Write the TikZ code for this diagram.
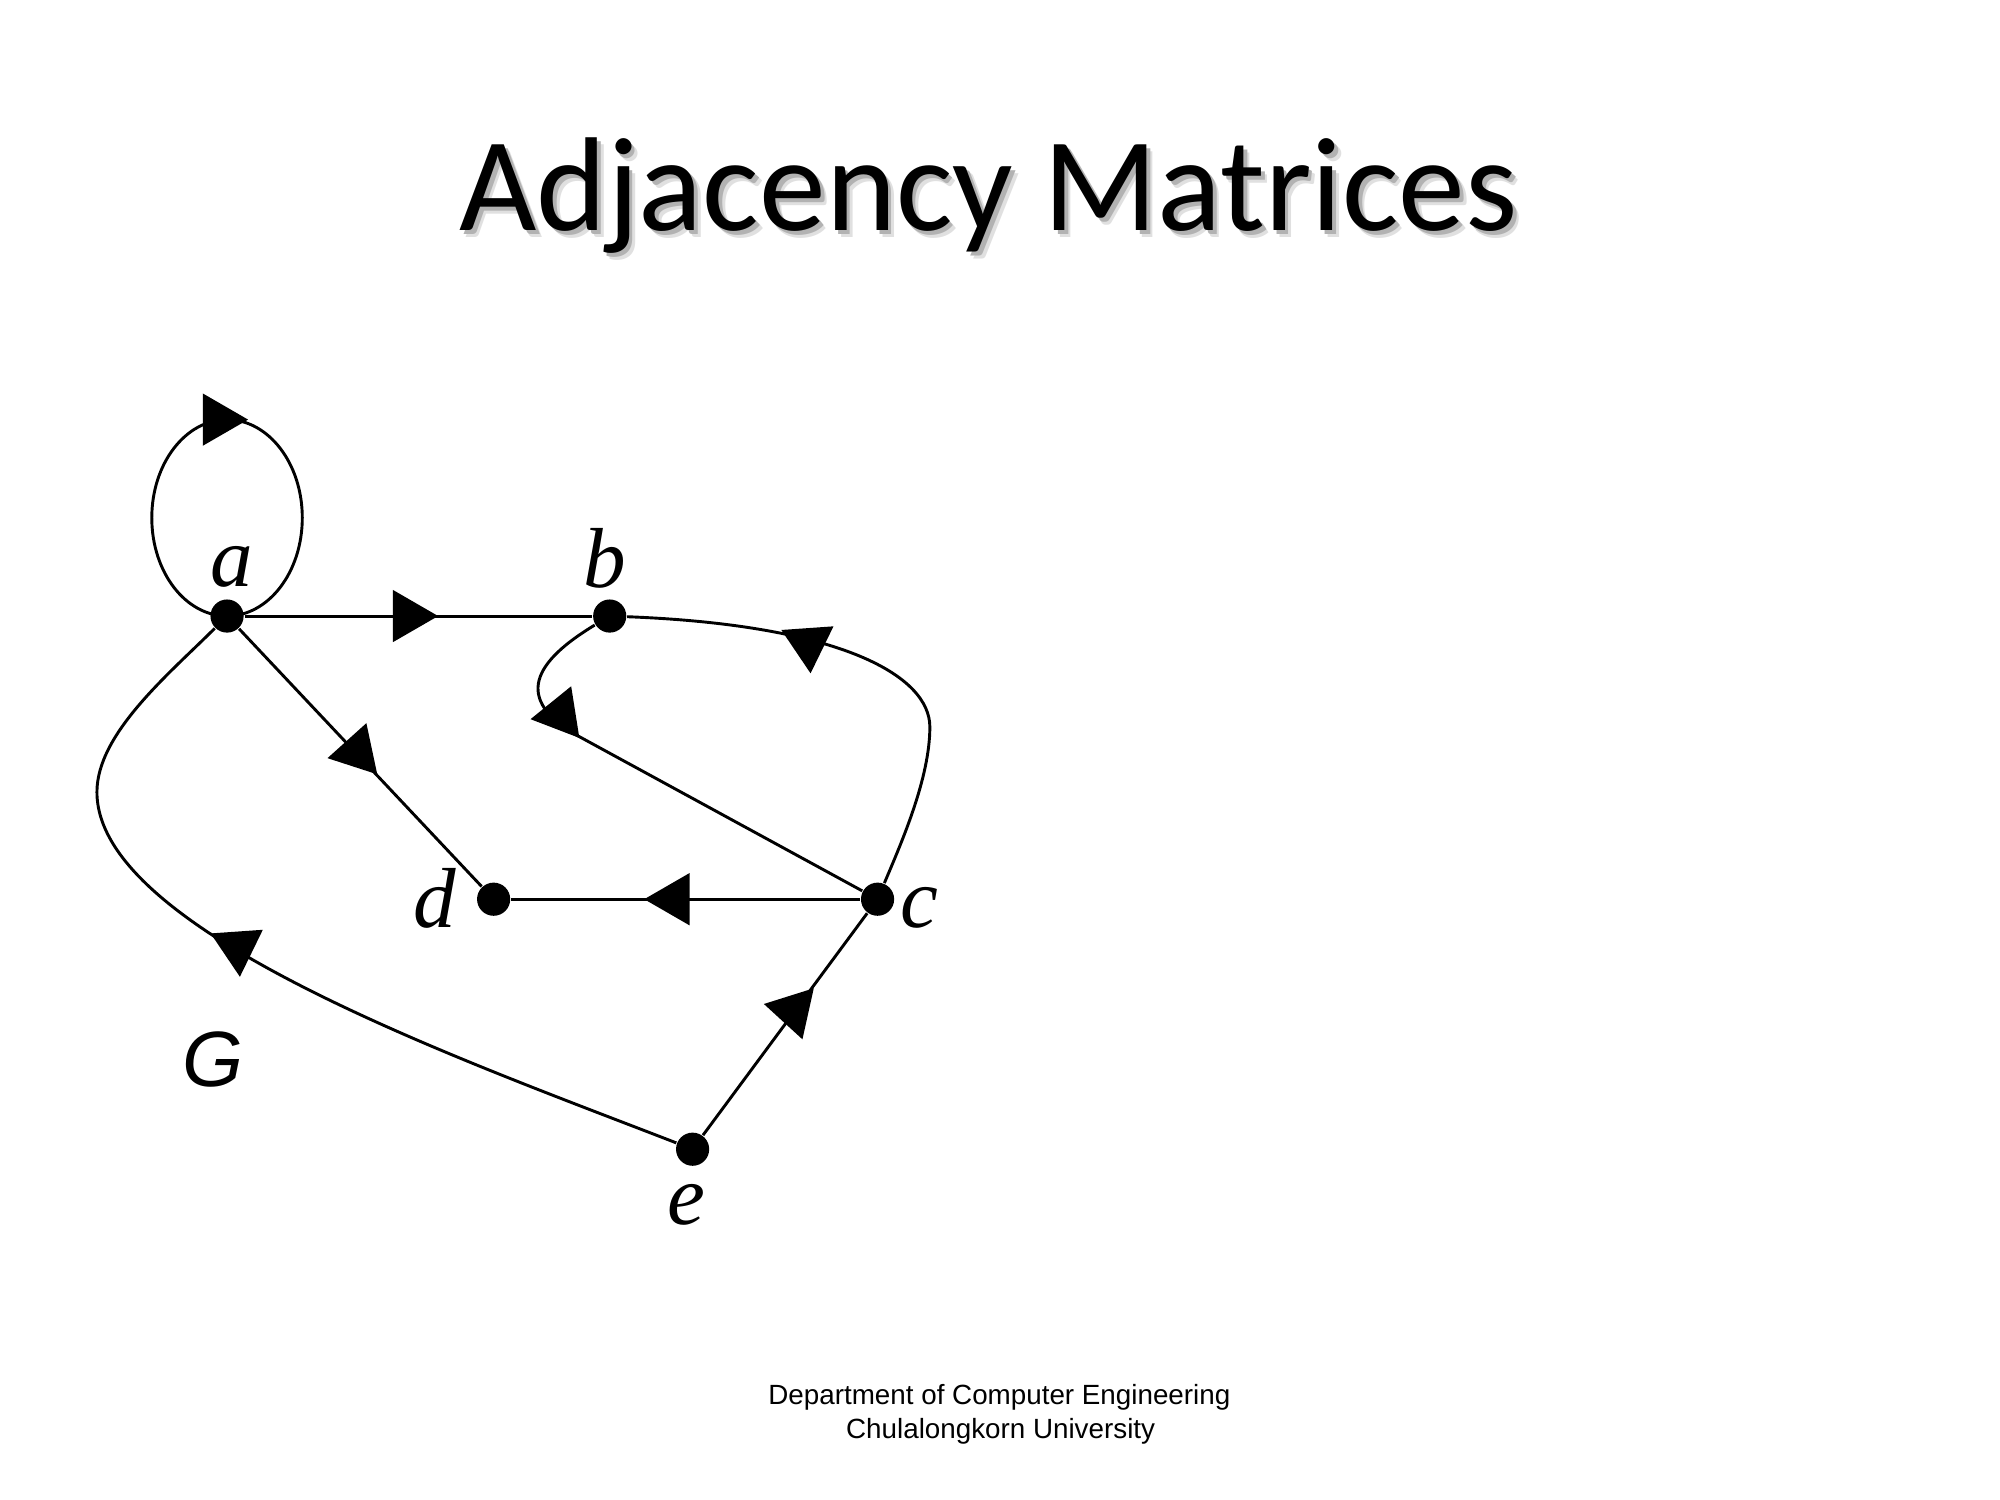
\documentclass[tikz,border=0pt]{standalone}
\usepackage{fontspec}
\setmainfont{Liberation Serif}
\newfontfamily\titlefont{Carlito}
\newfontfamily\sansfont{Liberation Sans}
\begin{document}
\begin{tikzpicture}[
  vertex/.style={circle, fill=black, inner sep=0pt, minimum size=0.26cm},
  edge/.style={line width=0.65pt},
  vlabel/.style={anchor=base, inner sep=0pt, font=\fontsize{19}{19}\selectfont\itshape},
  titletext/.style={anchor=base, inner sep=0pt, font=\titlefont\fontsize{29.8}{32}\selectfont},
  foot/.style={anchor=base, inner sep=0pt, font=\sansfont\fontsize{6.2}{7.7}\selectfont},
  head/.pic={\fill (0.355,0) -- (0,0.205) -- (0,-0.205) -- cycle;},
]
\useasboundingbox (0,0) rectangle (15.68,11.76);
\fill[white] (0,0) rectangle (15.68,11.76);

% title with a soft drop shadow
\node[titletext, text=black!12] (tshadow2) at (7.80,9.90) {Adjacency Matrices};
\node[titletext, text=black!30] (tshadow) at (7.78,9.92) {Adjacency Matrices};
\node[titletext] (title) at (7.75,9.95) {Adjacency Matrices};

% vertices
\node[vertex] (a) at (1.78,6.93) {};
\node[vertex] (b) at (4.78,6.93) {};
\node[vertex] (c) at (6.88,4.71) {};
\node[vertex] (d) at (3.87,4.71) {};
\node[vertex] (e) at (5.43,2.75) {};

% vertex labels
\node[vlabel] (la) at (1.82,7.16) {a};
\node[vlabel] (lb) at (4.74,7.15) {b};
\node[vlabel] (lc) at (7.21,4.49) {c};
\node[vlabel] (ld) at (3.41,4.49) {d};
\node[vlabel] (le) at (5.38,2.16) {e};
\node[anchor=base, inner sep=0pt, font=\sansfont\itshape\fontsize{17.5}{18}\selectfont] (G) at (1.67,3.24) {G};

% loop at a: an ellipse standing on the vertex
\draw[edge] (a) arc[start angle=-90, end angle=270, x radius=0.59, y radius=0.77];
\pic at (1.59,8.47) {head};

% a -> b
\draw[edge] (a) -- (b);
\pic at (3.08,6.93) {head};

% a -> d
\draw[edge] (a) -- (d);
\pic[rotate=-48] at (2.72,5.953) {head};

% c -> d
\draw[edge] (c) -- (d);
\pic[rotate=180] at (5.406,4.71) {head};

% c -> b (inner curve)
\coordinate (cbbend) at (4.55,5.98);
\draw[edge] (c) -- (cbbend) .. controls (4.00,6.28) and (4.20,6.58) .. (b);
\pic[rotate=189] at (4.51,6.177) {head};

% c -> b (outer curve)
\coordinate (cbright) at (7.29,6.06);
\draw[edge] (c) .. controls (7.07,5.16) and (7.29,5.66) .. (cbright)
               .. controls (7.29,6.46) and (6.60,6.86) .. (b);
\pic[rotate=-86] at (6.33,6.835) {head};

% e -> c
\draw[edge] (e) -- (c);
\pic[rotate=47.5] at (6.14,3.75) {head};

% e -> a
\coordinate (ealeft) at (0.76,5.55);
\draw[edge] (e) .. controls (3.60,3.46) and (0.76,4.46) .. (ealeft)
               .. controls (0.76,6.01) and (1.33,6.48) .. (a);
\pic[rotate=-86] at (1.856,4.456) {head};

% footer
\node[foot] (foot1) at (7.835,0.75) {Department of Computer Engineering};
\node[foot] (foot2) at (7.845,0.48) {Chulalongkorn University};
\end{tikzpicture}
\end{document}
